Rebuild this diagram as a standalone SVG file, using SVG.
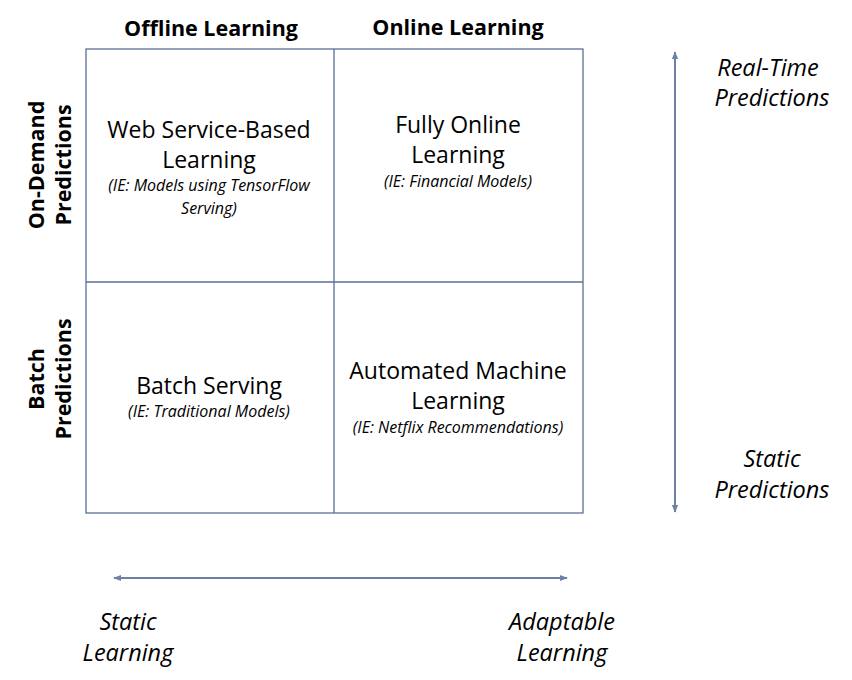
<svg xmlns="http://www.w3.org/2000/svg" width="852" height="680" viewBox="0 0 852 680">
<style>
text{font-family:"Open Sans","Liberation Sans",sans-serif;fill:#000;text-anchor:middle}
.h{font-weight:bold;font-size:21.5px}
.m{font-size:23px}
.s{font-size:16px;font-style:italic}
.i{font-size:23.5px;font-style:italic}
.grid{fill:none;stroke:#5b6f97;stroke-width:1.3}
.ax{stroke:#6e80a4;stroke-width:2;fill:none}
</style>
<defs>
<marker id="ah" viewBox="0 0 10 10" refX="9" refY="5" markerWidth="4" markerHeight="4" orient="auto-start-reverse"><path d="M0,1 L10,5 L0,9 Z" fill="#6e80a4"/></marker>
</defs>
<rect width="852" height="680" fill="#fff"/>
<g id="grid">
<rect class="grid" x="86" y="49" width="497" height="464"/>
<line class="grid" x1="334" y1="49" x2="334" y2="513"/>
<line class="grid" x1="86" y1="282" x2="583" y2="282"/>
</g>
<g id="headers">
<text class="h" x="211" y="36">Offline Learning</text>
<text class="h" x="458" y="35">Online Learning</text>
<text class="h" transform="translate(0,165) rotate(-90)"><tspan x="0" y="44">On-Demand</tspan><tspan x="0" y="71">Predictions</tspan></text>
<text class="h" transform="translate(0,379) rotate(-90)"><tspan x="0" y="44">Batch</tspan><tspan x="0" y="71">Predictions</tspan></text>
</g>
<g id="cell-web">
<text class="m" x="209" y="138">Web Service-Based</text>
<text class="m" x="209" y="168">Learning</text>
<text class="s" x="209" y="191">(IE: Models using TensorFlow</text>
<text class="s" x="209" y="214">Serving)</text>
</g>
<g id="cell-online">
<text class="m" x="458" y="133">Fully Online</text>
<text class="m" x="458" y="163">Learning</text>
<text class="s" x="458" y="187">(IE: Financial Models)</text>
</g>
<g id="cell-batch">
<text class="m" x="209" y="394">Batch Serving</text>
<text class="s" x="209" y="417">(IE: Traditional Models)</text>
</g>
<g id="cell-auto">
<text class="m" x="458" y="379">Automated Machine</text>
<text class="m" x="458" y="409">Learning</text>
<text class="s" x="458" y="433">(IE: Netflix Recommendations)</text>
</g>
<g id="connectors">
<line class="ax" x1="675" y1="52" x2="675" y2="512" marker-start="url(#ah)" marker-end="url(#ah)"/>
<line class="ax" x1="114" y1="578" x2="567" y2="578" marker-start="url(#ah)" marker-end="url(#ah)"/>
</g>
<g id="axis-labels">
<text class="i" x="768" y="76">Real-Time</text>
<text class="i" x="772" y="106">Predictions</text>
<text class="i" x="772" y="467">Static</text>
<text class="i" x="772" y="498">Predictions</text>
<text class="i" x="128" y="630">Static</text>
<text class="i" x="128" y="661">Learning</text>
<text class="i" x="562" y="630">Adaptable</text>
<text class="i" x="562" y="661">Learning</text>
</g>
</svg>
